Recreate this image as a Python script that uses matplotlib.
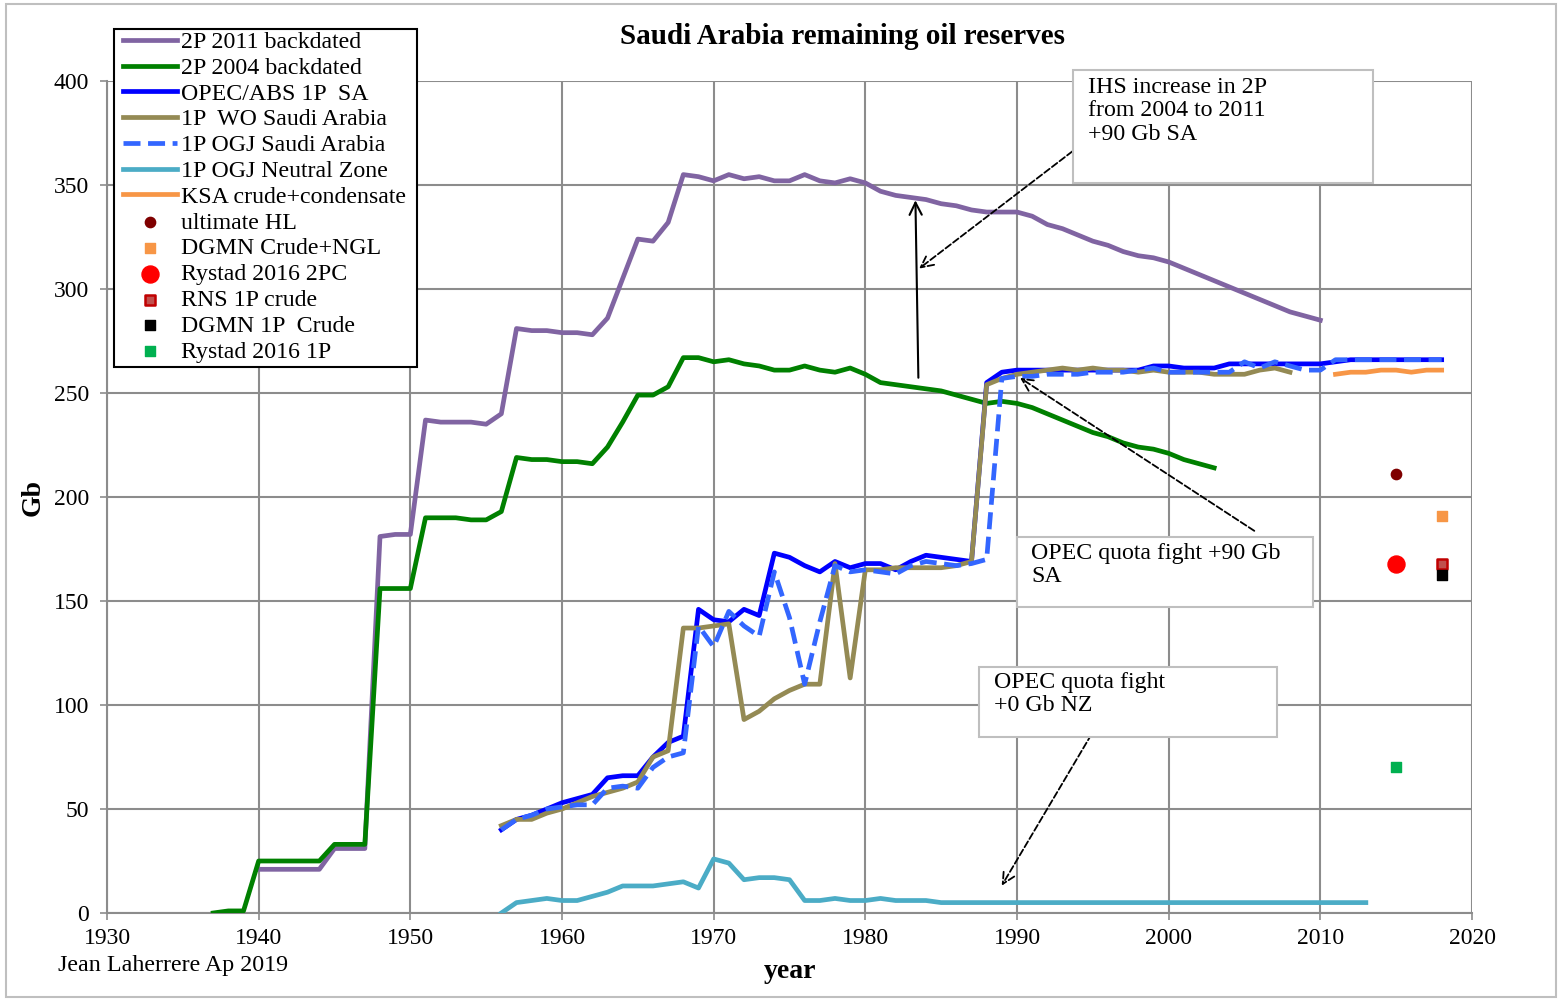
import matplotlib
matplotlib.use("Agg")
import matplotlib.pyplot as plt
from matplotlib.patches import Rectangle
import numpy as np

plt.rcParams['font.family'] = ['Liberation Serif', 'DejaVu Serif']

# ---------------- data ----------------
p2011_start = 1940
p2011 = [21, 21, 21, 21, 21, 31, 31, 31, 181, 182, 182, 237, 236, 236, 236, 235, 240, 281, 280, 280,
         279, 279, 278, 286, 305, 324, 323, 332, 355, 354, 352, 355, 353, 354, 352, 352, 355, 352, 351, 353,
         351, 347, 345, 344, 343, 341, 340, 338, 337, 337, 337, 335, 331, 329, 326, 323, 321, 318, 316, 315,
         313, 310, 307, 304, 301, 298, 295, 292, 289, 287, 285]

p2004_start = 1937
p2004 = [0, 1, 1, 25, 25, 25, 25, 25, 33, 33, 33, 156, 156, 156, 190, 190, 190, 189, 189, 193,
         219, 218, 218, 217, 217, 216, 224, 236, 249, 249, 253, 267, 267, 265, 266, 264, 263, 261, 261, 263,
         261, 260, 262, 259, 255, 254, 253, 252, 251, 249, 247, 245, 246, 245, 243, 240, 237, 234, 231, 229,
         226, 224, 223, 221, 218, 216, 214]

opec_start = 1956
opec = [40, 45, 47, 50, 53, 55, 57, 65, 66, 66, 75, 82, 85, 146, 141, 140, 146, 143, 173, 171,
        167, 164, 169, 166, 168, 168, 165, 169, 172, 171, 170, 169, 255, 260, 261, 261, 261, 261, 261, 261,
        261, 261, 261, 263, 263, 262, 262, 262, 264, 264, 264, 264, 264, 264, 264, 265, 266, 266, 266, 266,
        266, 266, 266]

wo_start = 1956
wo = [42, 45, 45, 48, 50, 53, 56, 58, 60, 63, 75, 78, 137, 137, 138, 139, 93, 97, 103, 107,
      110, 110, 168, 113, 165, 165, 166, 166, 166, 166, 167, 169, 254, 257, 259, 260, 261, 262, 261, 262,
      261, 261, 260, 261, 260, 260, 260, 259, 259, 259, 261, 262, 260]

ogj_start = 1956
ogj = [40, 45, 47, 50, 51, 52, 52, 60, 61, 60, 70, 75, 77, 138, 128, 145, 138, 133, 164, 142,
       110, 140, 167, 164, 165, 164, 163, 167, 169, 168, 167, 168, 170, 257, 258, 258, 259, 259, 259, 260,
       260, 260, 261, 262, 260, 260, 260, 260, 260, 265, 262, 265, 263, 261, 261, 266, 266, 266, 266, 266,
       266, 266, 266]

nz_start = 1956
nz = [0, 5, 6, 7, 6, 6, 8, 10, 13, 13, 13, 14, 15, 12, 26, 24, 16, 17, 17, 16,
      6, 6, 7, 6, 6, 7, 6, 6, 6, 5, 5, 5, 5, 5, 5, 5, 5, 5, 5, 5,
      5, 5, 5, 5, 5, 5, 5, 5, 5, 5, 5, 5, 5, 5, 5, 5, 5, 5]

ksa_start = 2011
ksa = [259, 260, 260, 261, 261, 260, 261, 261]

# single points: (label, year, value)
pt_labels = ['ultimate HL', 'DGMN Crude+NGL', 'Rystad 2016 2PC', 'RNS 1P crude', 'DGMN 1P  Crude', 'Rystad 2016 1P']
pt_years = [2015, 2018, 2015, 2018, 2018, 2015]
pt_values = [211, 191, 168, 168, 162.5, 70]

x_ticks = list(range(1930, 2021, 10))
y_ticks = list(range(0, 401, 50))


def yrs(start, vals):
    return np.arange(start, start + len(vals))


# ---------------- figure ----------------
W, H = 1562, 1000
fig = plt.figure(figsize=(W / 100, H / 100), dpi=100)
ax = fig.add_axes([107 / W, 1 - 913 / H, (1472 - 107) / W, (913 - 81) / H])


def fx(px):
    return px / W


def fy(py):
    return 1 - py / H


lw = 3.4
l1, = ax.plot(yrs(p2011_start, p2011), p2011, color='#8064A2', lw=lw, label='2P 2011 backdated', zorder=3)
l2, = ax.plot(yrs(p2004_start, p2004), p2004, color='#008000', lw=lw, label='2P 2004 backdated', zorder=3)
l3, = ax.plot(yrs(opec_start, opec), opec, color='#0000FF', lw=lw, label='OPEC/ABS 1P  SA', zorder=3)
l4, = ax.plot(yrs(wo_start, wo), wo, color='#948A54', lw=lw, label='1P  WO Saudi Arabia', zorder=4)
l5, = ax.plot(yrs(ogj_start, ogj), ogj, color='#3366FF', lw=lw, ls=(0, (3.6, 1.6)),
              label='1P OGJ Saudi Arabia', zorder=5)
l6, = ax.plot(yrs(nz_start, nz), nz, color='#4BACC6', lw=lw, label='1P OGJ Neutral Zone', zorder=3)
l7, = ax.plot(yrs(ksa_start, ksa), ksa, color='#F79646', lw=lw, label='KSA crude+condensate', zorder=3)

mk_styles = [
    dict(marker='o', s=55, color='#7F0000', edgecolors='#7F0000'),
    dict(marker='s', s=60, color='#F79646', edgecolors='#F79646'),
    dict(marker='o', s=150, color='#FF0000', edgecolors='#FF0000'),
    dict(marker='s', s=60, color='#C0504D', edgecolors='#C00000', linewidths=1.8),
    dict(marker='s', s=60, color='#000000', edgecolors='#000000'),
    dict(marker='s', s=60, color='#00B050', edgecolors='#00B050'),
]
sc_handles = []
for lab, xv, yv, st in zip(pt_labels, pt_years, pt_values, mk_styles):
    h = ax.scatter([xv], [yv], label=lab, zorder=6, **st)
    sc_handles.append(h)

ax.set_xlim(1930, 2020)
ax.set_ylim(0, 400)
ax.set_xticks(x_ticks)
ax.set_yticks(y_ticks)
ax.grid(True, color='#8C8C8C', lw=1.5, zorder=0)
ax.set_axisbelow(True)
for s in ['top', 'right']:
    ax.spines[s].set_visible(False)
for s in ['left', 'bottom']:
    ax.spines[s].set_color('#8C8C8C')
    ax.spines[s].set_linewidth(1.5)
ax.tick_params(axis='both', labelsize=17, colors='#8C8C8C', labelcolor='black', length=5, width=1.2)
ax.tick_params(axis='x', pad=6)
ax.tick_params(axis='y', pad=8)

# title / labels
fig.text(fx(842), fy(37), 'Saudi Arabia remaining oil reserves', ha='center', va='center',
         fontsize=21, fontweight='bold')
fig.text(fx(33), fy(497), 'Gb', ha='center', va='center', rotation=90, fontsize=20, fontweight='bold')
fig.text(fx(790), fy(972), 'year', ha='center', va='center', fontsize=20, fontweight='bold')
fig.text(fx(58), fy(965), 'Jean Laherrere Ap 2019', ha='left', va='center', fontsize=17.3)

# text boxes
def tbox(x0, y0, x1, y1, txt, tx, ty):
    r = Rectangle((fx(x0), fy(y1)), fx(x1) - fx(x0), fy(y0) - fy(y1), transform=fig.transFigure,
                  facecolor='white', edgecolor='#BFBFBF', lw=1.5, zorder=10)
    fig.patches.append(r)
    fig.text(fx(tx), fy(ty), txt, ha='left', va='top', fontsize=17.2, zorder=11, linespacing=1.15)


tbox(1073, 70, 1373, 183, 'IHS increase in 2P\nfrom 2004 to 2011\n+90 Gb SA', 1088, 77)
tbox(1017, 537, 1313, 607, 'OPEC quota fight +90 Gb\nSA', 1031, 543)
tbox(979, 667, 1277, 737, 'OPEC quota fight\n+0 Gb NZ', 994, 672)

# arrows
ax.annotate('', xy=(1983.3, 344), xytext=(1983.5, 256),
            arrowprops=dict(arrowstyle='->', color='black', lw=1.5, mutation_scale=22), zorder=7)
ax.annotate('', xy=(1983.4, 309), xytext=(1993.8, 367),
            arrowprops=dict(arrowstyle='->', color='black', lw=1.3, ls='--', mutation_scale=22), zorder=7)
ax.annotate('', xy=(1990.05, 258), xytext=(2005.8, 183),
            arrowprops=dict(arrowstyle='->', color='black', lw=1.3, ls='--', mutation_scale=22), zorder=7)
ax.annotate('', xy=(1988.9, 12), xytext=(1995.0, 87),
            arrowprops=dict(arrowstyle='->', color='black', lw=1.3, ls='--', mutation_scale=22), zorder=7)

# legend frame (drawn separately) + legend
fig.patches.append(Rectangle((fx(114), fy(367)), fx(417) - fx(114), fy(29) - fy(367),
                             transform=fig.transFigure, facecolor='white', edgecolor='black',
                             lw=1.5, zorder=15))
handles = [l1, l2, l3, l4, l5, l6, l7] + sc_handles
leg = fig.legend(handles=handles, loc='upper left', bbox_to_anchor=(fx(121), fy(29)),
                 fontsize=17.2, frameon=False, handlelength=2.25, handletextpad=0.17,
                 labelspacing=0.17, borderpad=0.1, borderaxespad=0, scatterpoints=1)
leg.set_zorder(20)

# figure border
fig.patches.append(Rectangle((0.004, 0.003), 0.992, 0.993, transform=fig.transFigure,
                             facecolor='none', edgecolor='#BFBFBF', lw=1.5, zorder=0))

fig.savefig('out.png', dpi=100)
